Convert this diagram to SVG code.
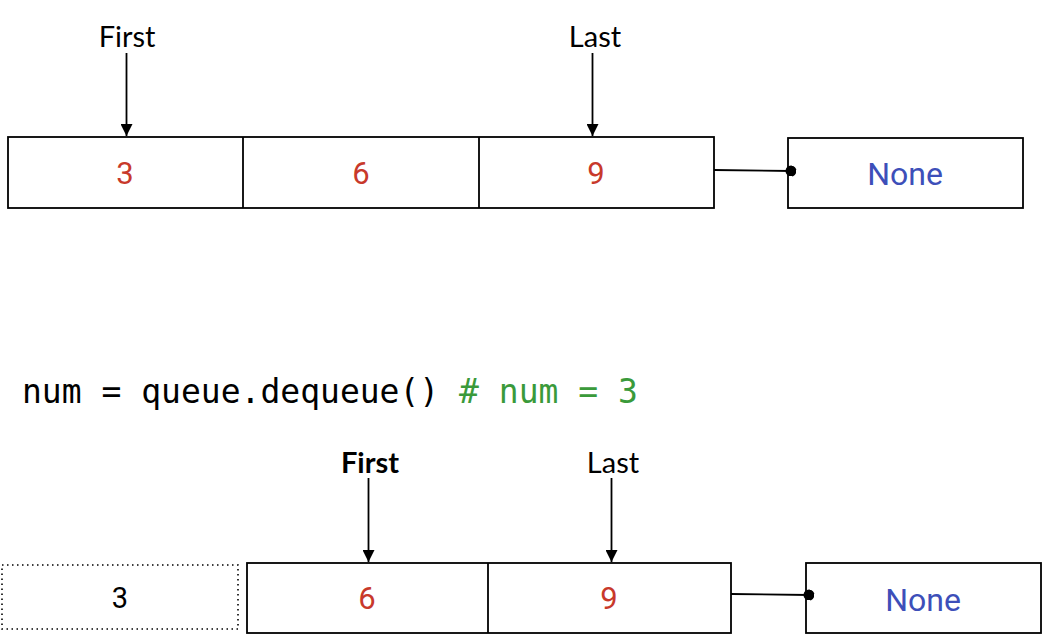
<svg xmlns="http://www.w3.org/2000/svg" width="1045" height="639" viewBox="0 0 1045 639">
<defs>
<marker id="arrow" viewBox="0 0 12 12" refX="12" refY="6" markerWidth="12" markerHeight="12" markerUnits="userSpaceOnUse" orient="auto">
<path d="M0,0 L12,6 L0,12 Z" fill="#000"/>
</marker>
<marker id="dot" viewBox="0 0 12 12" refX="6" refY="6" markerWidth="11" markerHeight="11" markerUnits="userSpaceOnUse" orient="auto">
<circle cx="6" cy="6" r="6" fill="#000"/>
</marker>
</defs>
<style>
.box{fill:#fff;stroke:#000;stroke-width:1.8}
.dotted{fill:#fff;stroke:#000;stroke-width:1.6;stroke-dasharray:1.5 3.5}
.div{stroke:#000;stroke-width:1.8}
.val{font-family:Roboto,"DejaVu Sans",sans-serif;font-size:31px;fill:#c8392b;text-anchor:middle}
.none{font-family:Roboto,"DejaVu Sans",sans-serif;font-size:32px;fill:#3d4fb9;text-anchor:middle}
.lbl{font-family:Lato,"Liberation Sans",sans-serif;font-size:29px;fill:#000;text-anchor:middle}
.bold{font-weight:bold}
.code{font-family:"DejaVu Sans Mono","Liberation Mono",monospace;font-size:33px;fill:#000}
.cmt{fill:#3a9a3a}
.arr{stroke:#000;stroke-width:1.8;fill:none;marker-end:url(#arrow)}
.link{stroke:#000;stroke-width:1.8;fill:none;marker-end:url(#dot)}
.plain{font-family:Roboto,"Liberation Sans",sans-serif;font-size:29px;fill:#000;text-anchor:middle}
</style>

<g id="queue-top">
<rect class="box" x="8" y="137" width="706" height="71"/>
<line class="div" x1="243" y1="137" x2="243" y2="208"/>
<line class="div" x1="479" y1="137" x2="479" y2="208"/>
<text class="val" x="125" y="184">3</text>
<text class="val" x="361" y="184">6</text>
<text class="val" x="596" y="184">9</text>
</g>
<g id="none-top">
<rect class="box" x="788" y="138" width="235" height="70"/>
<text class="none" x="905" y="185">None</text>
</g>
<g id="label-first-top">
<text class="lbl" x="127" y="47">First</text>
</g>
<g id="label-last-top">
<text class="lbl" x="595" y="47">Last</text>
</g>

<g id="code">
<text class="code" x="22" y="403">num = queue.dequeue() <tspan class="cmt"># num = 3</tspan></text>
</g>

<g id="removed">
<rect class="dotted" x="2" y="565" width="236" height="64"/>
<text class="plain" x="120" y="608">3</text>
</g>
<g id="queue-bottom">
<rect class="box" x="247" y="563" width="484" height="70"/>
<line class="div" x1="488" y1="563" x2="488" y2="633"/>
<text class="val" x="367" y="609">6</text>
<text class="val" x="609" y="609">9</text>
</g>
<g id="none-bottom">
<rect class="box" x="806" y="563" width="235" height="70"/>
<text class="none" x="923" y="611">None</text>
</g>
<g id="label-first-bottom">
<text class="lbl bold" x="370" y="473">First</text>
</g>
<g id="label-last-bottom">
<text class="lbl" x="613" y="473">Last</text>
</g>

<g id="connectors">
<line class="arr" x1="126.5" y1="53" x2="126.5" y2="136"/>
<line class="arr" x1="592.5" y1="53" x2="592.5" y2="136"/>
<line class="arr" x1="368.5" y1="478" x2="368.5" y2="562"/>
<line class="arr" x1="611.5" y1="478" x2="611.5" y2="562"/>
<line class="link" x1="714" y1="170" x2="791" y2="171"/>
<line class="link" x1="731" y1="594" x2="809" y2="595"/>
</g>
</svg>
